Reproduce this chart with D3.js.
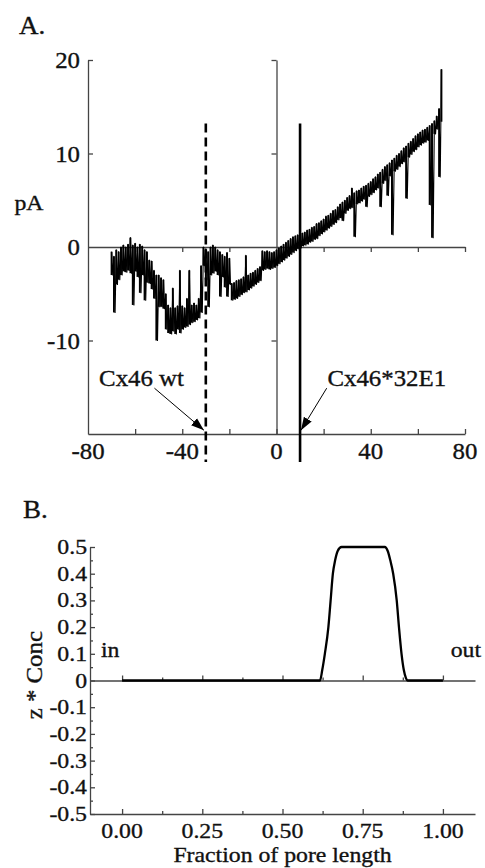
<!DOCTYPE html>
<html><head><meta charset="utf-8">
<script src="https://cdn.jsdelivr.net/npm/d3@7/dist/d3.min.js"></script>
<style>body{margin:0;background:#fff}svg{display:block}text{font-family:"Liberation Serif","Times New Roman",serif;fill:#111;stroke:#111;stroke-width:0.35}</style>
</head><body><svg id="c" width="485" height="868"></svg>
<script>
// ---------- Panel A data (mV sampled every 1 mV from -70 to 70) ----------
const traceStart = -70, traceStep = 1;
const traceHigh = [
 -0.5,-1,-0.3,-0.5,0,0.2,0,0.3,1,0.2,0.4,0,0.3,0.1,-0.3,-0.5,-1.4,-1.5,-2.5,-3,
 -3,-3.3,-3.5,-5,-6.2,-6.5,-4.4,-6.5,-6.3,-2.5,-6.3,-6.5,-5.5,-2.5,-6.2,-6,-6.2,-5.5,-2,0,
 -0.2,-0.5,0,0.2,0,-0.3,-0.5,-0.8,-1,-0.6,-1.2,-3.9,-3.8,-3.6,-3.5,-3.4,-3.2,-0.9,-3,-2.8,
 -2.7,-2.5,-2.3,-2.1,-0.4,-0.5,-0.4,-0.5,-0.6,-0.5,-0.3,-0.1,0.1,0.3,0.5,0.7,0.9,1.1,1.2,1.3,
 1.3,1.5,1.6,1.8,1.9,2.1,2.2,2.5,2.6,2.8,3.0,3.3,3.4,3.6,3.9,4.0,4.3,4.6,4.8,5.0,
 5.3,5.5,6.3,5.8,6.0,6.1,6.3,6.5,6.6,6.8,7.0,7.3,7.5,7.8,8.0,8.3,8.6,8.8,9.0,9.3,
 9.5,9.8,10.0,10.3,10.6,10.8,11.1,11.3,11.6,11.9,12.1,12.3,12.5,12.6,12.8,13.0,13.2,13.5,14.0,14.8,
 19];
const traceLow = [
 -3,-7,-4,-3.5,-3,-2.6,-2.7,-2.5,-2.8,-6.2,-2.6,-3.2,-4.9,-3,-5.7,-3.8,-3.9,-4.5,-5.5,-10,
 -6.4,-6.4,-6.6,-8.8,-9.2,-9.3,-9,-9.3,-8.8,-9.2,-8.8,-8.6,-8.5,-8.3,-8.1,-8,-7.8,-7.6,-7,-2,
 -3.5,-6.4,-3,-2.8,-2.6,-3,-5.3,-3.2,-4.3,-5.3,-4,-5.7,-5.6,-5.5,-5.3,-5.1,-4.9,-4.8,-4.6,-4.4,
 -4.2,-4,-3.8,-3.6,-2.5,-2.4,-2.3,-2.4,-2.3,-2.2,-2,-1.8,-1.6,-1.4,-1.2,-1,-0.8,-0.6,-0.4,-0.2,
 -0.1,0.1,0.2,0.3,0.5,0.6,0.8,0.9,1.2,1.4,1.6,1.8,2.0,2.2,2.4,2.6,2.9,3.1,2.8,3.6,
 3.9,4.1,4.2,1.1,4.6,4.7,4.9,5.1,4.3,5.4,5.6,5.8,6.1,6.3,4.3,6.8,7.1,5.5,7.6,1.3,
 8.1,8.3,8.6,8.9,9.1,5.2,9.6,9.9,10.2,10.4,10.7,10.9,11.1,11.2,11.4,4.5,1.0,12.1,12.6,7.5,
 13.4];
const xTicksA = [-80,-40,0,40,80];
const xMinorA = [-60,-40,-20,0,20,40,60,80];
const yTicksA = [20,10,0,-10];
const markers = [{name:"Cx46 wt", v:-30, dashed:true}, {name:"Cx46*32E1", v:10, dashed:false}];

// ---------- Panel B data ----------
const poreFrac = [0,0.3,0.6,0.617,0.624,0.632,0.643,0.65,0.657,0.664,0.672,0.684,0.75,0.819,0.828,0.836,0.845,0.856,0.863,0.871,0.878,0.885,0.89,0.95,1.0];
const zConc    = [0,0,0,0,0.04,0.1,0.2,0.3,0.4,0.45,0.485,0.5,0.5,0.5,0.485,0.45,0.4,0.3,0.2,0.1,0.04,0.008,0,0,0];
const xTicksB = [0,0.25,0.5,0.75,1.0];
const xMinorB = [0.125,0.375,0.625,0.875];
const yTicksB = [0.5,0.4,0.3,0.2,0.1,0,-0.1,-0.2,-0.3,-0.4,-0.5];
const yMinorB = [0.45,0.35,0.25,0.15,0.05,-0.05,-0.15,-0.25,-0.35,-0.45];

const svg = d3.select("#c");
svg.append("rect").attr("width",485).attr("height",868).attr("fill","#fff");
const AX = "#444";
const SX = 1.08;
function label(x, y, s, anchor, size, rot) {
  return svg.append("text")
    .attr("transform", `translate(${x},${y})` + (rot ? ` rotate(${rot})` : "") + ` scale(${SX},1)`)
    .attr("text-anchor", anchor || "middle").attr("font-size", size || 22).text(s);
}
const hy = s => s.replace("\u2212", "-");
function styleAxis(g){ g.selectAll("path,line").attr("stroke",AX).attr("stroke-width",1.3); g.selectAll("text").remove(); }

// ---------- Panel A ----------
const xA = d3.scaleLinear().domain([-80,80]).range([88,465]);
const yA = d3.scaleLinear().domain([-20,20]).range([434,60]);

svg.append("g").attr("transform",`translate(${xA(-80)},0)`)
  .call(d3.axisRight(yA).tickValues([20,10,-10]).tickSize(5).tickSizeOuter(0)).call(styleAxis);
svg.append("g").attr("transform",`translate(${xA(0)},0)`)
  .call(d3.axisLeft(yA).tickValues([20,10,-10]).tickSize(5).tickSizeOuter(0)).call(styleAxis);
svg.append("g").attr("transform",`translate(0,${yA(0)})`)
  .call(d3.axisBottom(xA).tickValues(xMinorA.filter(v=>v!==0)).tickSize(5).tickSizeOuter(0)).call(styleAxis);
svg.append("g").attr("transform",`translate(0,${yA(-20)})`)
  .call(d3.axisTop(xA).tickValues(xMinorA).tickSize(5).tickSizeOuter(0)).call(styleAxis);

// trace: min/max bars plus the connecting zig-zag
const trace = traceHigh.map((h,i)=>({v: traceStart + i*traceStep, hi: h, lo: traceLow[i]}));
svg.append("g").selectAll("line").data(trace).join("line")
  .attr("x1",d=>xA(d.v)).attr("x2",d=>xA(d.v)).attr("y1",d=>yA(d.hi)).attr("y2",d=>yA(d.lo))
  .attr("stroke","#000").attr("stroke-width",1.9);
const pts = [];
trace.forEach(d=>{ pts.push([d.v, d.hi]); pts.push([d.v + traceStep/2, d.lo]); });
pts.pop();
svg.append("path").datum(pts)
  .attr("d", d3.line().x(d=>xA(d[0])).y(d=>yA(d[1])))
  .attr("fill","none").attr("stroke","#000").attr("stroke-width",1.1).attr("stroke-linejoin","round");

// marker lines
markers.forEach(m=>{
  svg.append("line").attr("x1",xA(m.v)).attr("x2",xA(m.v)).attr("y1",yA(13.2)).attr("y2",yA(-23))
    .attr("stroke","#000").attr("stroke-width",2.6).attr("stroke-dasharray", m.dashed ? "9,5" : null);
});

// arrows
const defs = svg.append("defs");
defs.append("marker").attr("id","ah").attr("viewBox","0 0 10 10").attr("refX",10).attr("refY",5)
  .attr("markerWidth",13).attr("markerHeight",13).attr("markerUnits","userSpaceOnUse").attr("orient","auto")
  .append("path").attr("d","M0,1.5 L10,5 L0,8.5 Z").attr("fill","#000");
const arrows = [{from:[-51.8,-15.1], to:[-30.8,-19.6]}, {from:[21.3,-15.1], to:[10.4,-19.6]}];
arrows.forEach(a=>{
  svg.append("line").attr("x1",xA(a.from[0])).attr("y1",yA(a.from[1])).attr("x2",xA(a.to[0])).attr("y2",yA(a.to[1]))
    .attr("stroke","#000").attr("stroke-width",1).attr("marker-end","url(#ah)");
});

// labels A
label(19, 34, "A.", "start", 25);
label(29, 210, "pA", "middle", 22);
yTicksA.forEach(v=> label(80, yA(v)+8, String(v), "end", 23));
xTicksA.forEach(v=> label(xA(v), 459, String(v), "middle", 23));
label(xA(-57.3), 386, markers[0].name, "middle", 23);
label(xA(46.8), 386, markers[1].name, "middle", 23);

// ---------- Panel B ----------
const xB = d3.scaleLinear().domain([-0.1,1.1]).range([90,475]);
const yB = d3.scaleLinear().domain([-0.5,0.5]).range([814,547]);

svg.append("g").attr("transform",`translate(${xB(-0.1)},0)`)
  .call(d3.axisRight(yB).tickValues(yTicksB).tickSize(5).tickSizeOuter(0)).call(styleAxis);
svg.append("g").attr("transform",`translate(${xB(-0.1)},0)`)
  .call(d3.axisRight(yB).tickValues(yMinorB).tickSize(3).tickSizeOuter(0)).call(styleAxis)
  .select(".domain").remove();
[yB(0), yB(-0.5)].forEach(yy=>{
  svg.append("g").attr("transform",`translate(0,${yy})`)
    .call(d3.axisTop(xB).tickValues(xTicksB).tickSize(5).tickSizeOuter(0)).call(styleAxis);
  svg.append("g").attr("transform",`translate(0,${yy})`)
    .call(d3.axisTop(xB).tickValues(xMinorB).tickSize(3).tickSizeOuter(0)).call(styleAxis)
    .select(".domain").remove();
});

svg.append("path").datum(poreFrac.map((f,i)=>[f,zConc[i]]))
  .attr("d", d3.line().x(d=>xB(d[0])).y(d=>yB(d[1])).curve(d3.curveMonotoneX))
  .attr("fill","none").attr("stroke","#000").attr("stroke-width",2.3);

label(23, 518, "B.", "start", 25);
yTicksB.forEach(v=> label(87, yB(v)+7, v === 0 ? "0" : hy(d3.format(".1f")(v)), "end", 22));
xTicksB.forEach(v=> label(xB(v), 838, d3.format(".2f")(v), "middle", 22));
label(xB(0.5), 862, "Fraction of pore length", "middle", 22);
label(42, yB(0.02), "z * Conc", "middle", 23, -90);
label(101, 657, "in", "start", 22);
label(481, 657, "out", "end", 22);
</script></body></html>
